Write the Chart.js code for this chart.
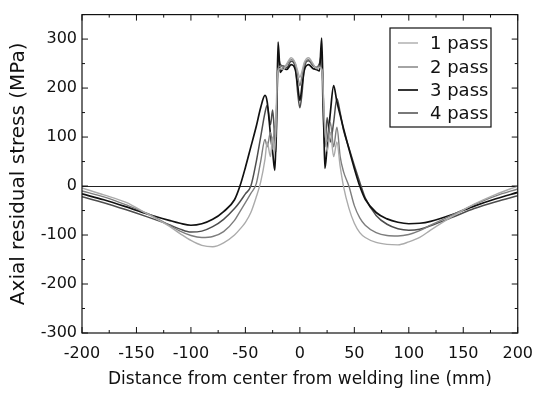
<!DOCTYPE html>
<html>
<head>
<meta charset="utf-8">
<script src="https://cdn.jsdelivr.net/npm/chart.js@4.4.1/dist/chart.umd.min.js"></script>
<style>
  html, body { margin: 0; padding: 0; background: #fff; }
  #wrap { width: 544px; height: 396px; position: relative; }
</style>
</head>
<body>
<div id="wrap"><canvas id="c" width="544" height="396"></canvas></div>
<script>
// ---- data ----
const xs = [-200,-180,-160,-140,-120,-110,-100,-90,-80,-70,-60,-55,-50,-45,-40,-36,-32,-30,-27,-25,-23,-22,-21,-20,-18,-15,-12,-8,-4,-2,0,2,4,8,12,15,18,20,21,22,23,25,28,31,34,37,40,45,50,55,60,70,80,90,100,110,120,140,160,180,200];

const pass1 = [-4,-18,-33,-57,-82,-97,-111,-121,-124,-116,-100,-88,-74,-54,-22,8,55,90,60,100,70,130,210,235,240,238,250,262,250,235,222,235,252,262,250,240,242,238,215,160,120,70,110,60,90,40,0,-45,-76,-95,-105,-115,-119,-120,-114,-105,-90,-62,-37,-17,0];

const pass2 = [-10,-22,-38,-56,-80,-92,-101,-105,-103,-93,-70,-52,-34,-15,5,50,95,80,110,75,120,100,200,240,245,242,248,258,248,225,205,225,248,258,248,242,245,240,230,150,110,90,130,80,120,60,30,0,-40,-65,-80,-95,-101,-102,-99,-91,-80,-59,-38,-20,-6];

const pass3 = [-16,-28,-42,-57,-70,-76,-80,-77,-68,-52,-28,0,38,80,122,160,185,172,106,70,32,90,180,294,232,240,238,248,236,205,175,205,236,248,240,238,235,302,222,120,36,80,150,205,172,145,118,76,36,0,-27,-54,-67,-74,-77,-76,-72,-58,-41,-26,-13];

const pass4 = [-22,-34,-48,-63,-79,-88,-94,-92,-83,-68,-46,-32,-16,0,50,100,150,165,125,155,95,70,160,265,248,245,242,255,240,190,160,190,240,256,246,242,250,270,180,110,80,140,90,130,178,150,115,78,42,8,-24,-60,-78,-87,-90,-88,-81,-64,-46,-32,-20];

const seriesNames = ['1 pass', '2 pass', '3 pass', '4 pass'];
const seriesValues = [pass1, pass2, pass3, pass4];
const seriesColors = ['#ababab', '#7d7d7d', '#111111', '#4d4d4d'];
const seriesWidths = [1.4, 1.4, 1.7, 1.5];

const xTickLabels = [-200,-150,-100,-50,0,50,100,150,200];
const yTickLabels = [-300,-200,-100,0,100,200,300];

const FONT = "'DejaVu Sans', sans-serif";

const frameTicks = {
  id: 'frameTicks',
  afterDraw(chart) {
    const {ctx, chartArea, scales} = chart;
    const {left, right, top, bottom} = chartArea;
    ctx.save();
    ctx.strokeStyle = '#111';
    ctx.lineWidth = 1.2;
    ctx.strokeRect(left, top, right - left, bottom - top);
    ctx.lineWidth = 1;
    ctx.beginPath();
    scales.x.ticks.forEach(t => {
      const p = scales.x.getPixelForValue(t.value);
      const len = xTickLabels.includes(t.value) ? 6 : 3;
      ctx.moveTo(p, bottom); ctx.lineTo(p, bottom - len);
      ctx.moveTo(p, top); ctx.lineTo(p, top + len);
    });
    scales.y.ticks.forEach(t => {
      const p = scales.y.getPixelForValue(t.value);
      const len = (t.value % 100 === 0) ? 6 : 3;
      ctx.moveTo(left, p); ctx.lineTo(left + len, p);
      ctx.moveTo(right, p); ctx.lineTo(right - len, p);
    });
    ctx.stroke();

    // legend box
    const bx = 390, by = 28, bw = 101, bh = 99;
    ctx.fillStyle = '#fff';
    ctx.fillRect(bx, by, bw, bh);
    ctx.strokeStyle = '#111';
    ctx.lineWidth = 1.2;
    ctx.strokeRect(bx, by, bw, bh);
    const rows = [43, 67, 90, 113];
    ctx.font = '18px ' + FONT;
    ctx.textBaseline = 'middle';
    ctx.textAlign = 'left';
    seriesNames.forEach((n, i) => {
      ctx.strokeStyle = seriesColors[i];
      ctx.lineWidth = seriesWidths[i];
      ctx.beginPath();
      ctx.moveTo(398, rows[i]); ctx.lineTo(418, rows[i]);
      ctx.stroke();
      ctx.fillStyle = '#111';
      ctx.fillText(n, 430, rows[i] + 1);
    });
    ctx.restore();
  }
};

new Chart(document.getElementById('c'), {
  type: 'line',
  data: {
    datasets: seriesNames.map((n, i) => ({
      label: n,
      data: xs.map((x, j) => ({x: x, y: seriesValues[i][j]})),
      borderColor: seriesColors[i],
      borderWidth: seriesWidths[i],
      pointRadius: 0,
      fill: false,
      cubicInterpolationMode: 'monotone'
    }))
  },
  options: {
    responsive: false,
    animation: false,
    devicePixelRatio: 1,
    layout: { padding: { left: 0, right: 21, top: 8, bottom: 0 } },
    plugins: { legend: { display: false }, tooltip: { enabled: false } },
    scales: {
      x: {
        type: 'linear',
        min: -200, max: 200,
        ticks: {
          stepSize: 25,
          autoSkip: false,
          maxRotation: 0,
          padding: 11,
          color: '#111',
          font: { family: FONT, size: 16 },
          callback: v => xTickLabels.includes(v) ? String(v) : ''
        },
        grid: { display: false, drawTicks: false },
        border: { display: false },
        title: {
          display: true,
          text: 'Distance from center from welding line (mm)',
          color: '#111',
          font: { family: FONT, size: 17 },
          padding: { top: 0, bottom: 6 }
        },
        afterFit: s => { s.height = 63; }
      },
      y: {
        type: 'linear',
        min: -300, max: 350,
        ticks: {
          stepSize: 50,
          autoSkip: false,
          padding: 5,
          color: '#111',
          font: { family: FONT, size: 16 },
          callback: v => yTickLabels.includes(v) ? String(v) : ''
        },
        grid: {
          drawTicks: false,
          color: c => (c.tick && c.tick.value === 0) ? '#222' : 'rgba(0,0,0,0)',
          lineWidth: 1
        },
        border: { display: false },
        title: {
          display: true,
          text: 'Axial residual stress (MPa)',
          color: '#111',
          font: { family: FONT, size: 20 },
          padding: { top: 7, bottom: 0 }
        },
        afterFit: s => { s.width = 82; }
      }
    }
  },
  plugins: [frameTicks]
});
</script>
</body>
</html>
